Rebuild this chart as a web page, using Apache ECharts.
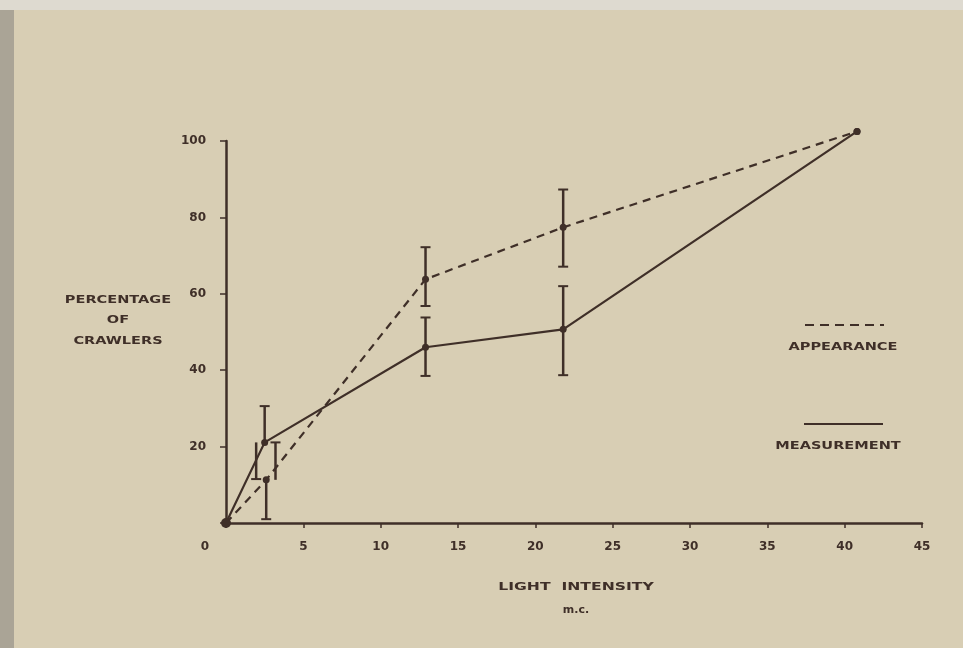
<!DOCTYPE html>
<html>
<head>
<meta charset="utf-8">
<script src="https://cdn.jsdelivr.net/npm/echarts@6/dist/echarts.min.js"></script>
<style>
html,body{margin:0;padding:0;background:#d8ceb4;}
#c{width:963px;height:648px;}
</style>
</head>
<body>
<div id="c"></div>
<script>
// Data
var xTicks = [0, 5, 10, 15, 20, 25, 30, 35, 40, 45];
var yTicks = [0, 20, 40, 60, 80, 100];
var appearanceX = [0, 2.6, 12.9, 21.8, 40.8];
var appearanceY = [0, 11.3, 63.8, 77.4, 102.5];
var measurementX = [0, 2.5, 12.9, 21.8, 40.8];
var measurementY = [0, 21.1, 46.0, 50.7, 102.5];
// error bars: [x, low, high, capLow, capHigh]
var appearanceErr = [[2.6, 1.0, 11.3, 1, 0], [3.2, 11.3, 21.1, 0, 1], [12.9, 56.8, 72.2, 1, 1], [21.8, 67.1, 87.3, 1, 1]];
var measurementErr = [[2.5, 21.1, 30.6, 0, 1], [1.95, 11.5, 21.1, 1, 0], [12.9, 38.5, 53.8, 1, 1], [21.8, 38.7, 62.0, 1, 1]];
var legendNames = ['APPEARANCE', 'MEASUREMENT'];
var xTitle = 'LIGHT  INTENSITY';
var xUnit = 'm.c.';
var yTitle = ['PERCENTAGE', 'OF', 'CRAWLERS'];

var ink = '#3f2f28';
var font = 'DejaVu Sans';

function zip(xs, ys) { return xs.map(function (x, i) { return [x, ys[i]]; }); }

function errRender(params, api) {
  var x = api.value(0), lo = api.value(1), hi = api.value(2);
  var capLo = api.value(3), capHi = api.value(4);
  var p1 = api.coord([x, lo]), p2 = api.coord([x, hi]);
  var w = 5;
  var ch = [{ type: 'line', shape: { x1: p1[0], y1: p1[1], x2: p2[0], y2: p2[1] }, style: { stroke: ink, lineWidth: 2.5 } }];
  if (capLo) ch.push({ type: 'line', shape: { x1: p1[0] - w, y1: p1[1], x2: p1[0] + w, y2: p1[1] }, style: { stroke: ink, lineWidth: 2 } });
  if (capHi) ch.push({ type: 'line', shape: { x1: p2[0] - w, y1: p2[1], x2: p2[0] + w, y2: p2[1] }, style: { stroke: ink, lineWidth: 2 } });
  return { type: 'group', children: ch };
}

var chart = echarts.init(document.getElementById('c'));
function txt(s, x, y, sx, size) {
  return {
    type: 'text', x: x, y: y, scaleX: sx || 1.32,
    style: { text: s, fill: ink, font: 'bold ' + (size || 11) + 'px "' + font + '"', textAlign: 'center', textVerticalAlign: 'middle' }
  };
}

chart.setOption({
  backgroundColor: '#d8ceb4',
  animation: false,
  grid: { left: 226, right: 41, top: 141, bottom: 125 },
  xAxis: {
    type: 'value', min: xTicks[0], max: xTicks[xTicks.length - 1], interval: 5,
    axisLine: { show: true, lineStyle: { color: ink, width: 2.5 } },
    axisTick: { show: true, length: 5, lineStyle: { color: ink, width: 1.5 } },
    axisLabel: {
      color: ink, fontFamily: font, fontWeight: 'bold', fontSize: 12, margin: 18,
      formatter: function (v) { return v === 0 ? '{z|0}' : String(v); },
      rich: { z: { padding: [0, 42, 0, 0], color: ink, fontFamily: font, fontWeight: 'bold', fontSize: 12 } }
    },
    splitLine: { show: false }
  },
  yAxis: {
    type: 'value', min: yTicks[0], max: yTicks[yTicks.length - 1], interval: 20,
    axisLine: { show: true, lineStyle: { color: ink, width: 2.5 } },
    axisTick: { show: true, length: 6, lineStyle: { color: ink, width: 1.5 } },
    axisLabel: {
      color: ink, fontFamily: font, fontWeight: 'bold', fontSize: 12, margin: 20,
      formatter: function (v) { return v === 0 ? '' : String(v); }
    },
    splitLine: { show: false }
  },
  series: [
    {
      name: legendNames[0], type: 'line', data: zip(appearanceX, appearanceY), clip: false,
      symbol: 'circle', symbolSize: 7,
      lineStyle: { color: ink, width: 2.2, type: [8, 6] },
      itemStyle: { color: ink }
    },
    {
      name: legendNames[1], type: 'line', data: zip(measurementX, measurementY), clip: false,
      symbol: 'circle', symbolSize: function (v) { return v[0] === 0 ? 10 : 7; },
      lineStyle: { color: ink, width: 2.2 },
      itemStyle: { color: ink }
    },
    { type: 'custom', data: appearanceErr, renderItem: errRender, clip: false, z: 3 },
    { type: 'custom', data: measurementErr, renderItem: errRender, clip: false, z: 3 }
  ],
  graphic: [
    { type: 'rect', shape: { x: 0, y: 0, width: 14, height: 648 }, style: { fill: '#aaa496' }, silent: true, z: -10 },
    { type: 'rect', shape: { x: 0, y: 0, width: 963, height: 10 }, style: { fill: '#dedad0' }, silent: true, z: -10 },
    txt(yTitle[0], 118, 300), txt(yTitle[1], 118, 320), txt(yTitle[2], 118, 341),
    txt(xTitle, 576, 587, 1.42), txt(xUnit, 576, 610, 1.1, 10),
    { type: 'line', shape: { x1: 805, y1: 325, x2: 884, y2: 325 }, style: { stroke: ink, lineWidth: 2, lineDash: [9, 6] } },
    txt(legendNames[0], 843, 347),
    { type: 'line', shape: { x1: 804, y1: 424, x2: 883, y2: 424 }, style: { stroke: ink, lineWidth: 2 } },
    txt(legendNames[1], 838, 446)
  ]
});
</script>
</body>
</html>
